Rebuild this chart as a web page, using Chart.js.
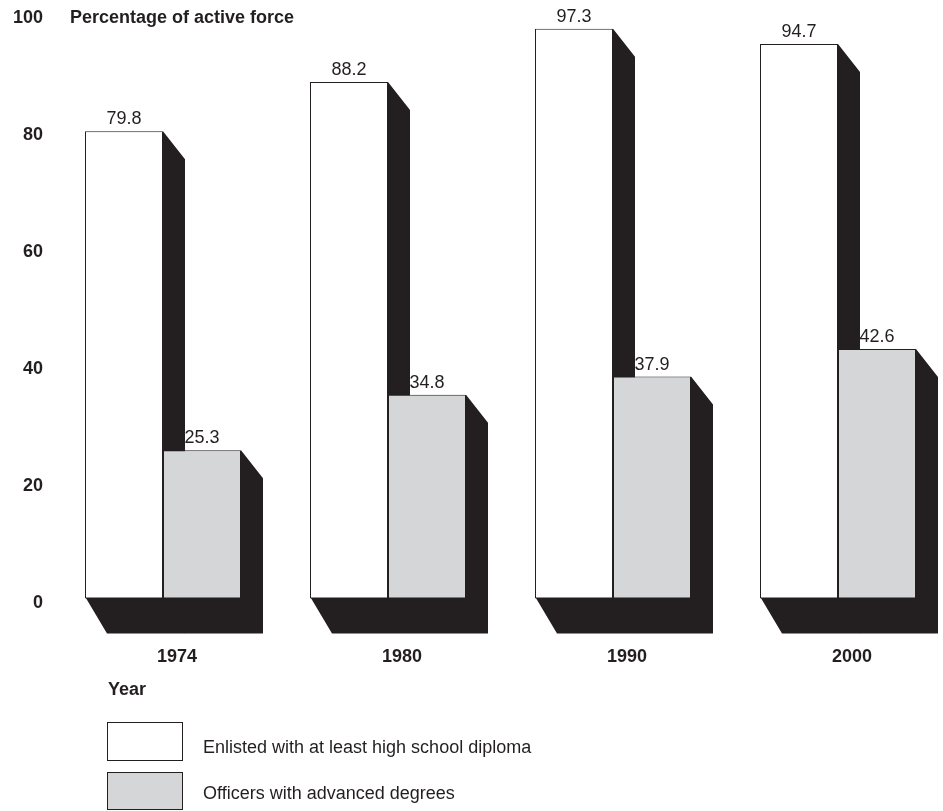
<!DOCTYPE html>
<html lang="en">

<head>
    <meta charset="UTF-8" />
    <title>Percentage of active force</title>
    <script src="https://cdn.jsdelivr.net/npm/chart.js"></script>
    <style>
        body {
            margin: 0;
            background: #fff;
            font-family: "Liberation Sans", Arial, sans-serif;
            color: #231f20;
        }

        .wrap {
            position: relative;
            width: 943px;
            height: 811px;
        }

        .txt {
            position: absolute;
            font-size: 18px;
            line-height: 18px;
            white-space: nowrap;
        }

        .bold {
            font-weight: bold;
        }

        .box {
            position: absolute;
            left: 107px;
            width: 74px;
            border: 1px solid #231f20;
        }
    </style>
</head>

<body>
    <div class="wrap">
        <canvas id="BarChart"></canvas>
        <div class="txt bold" style="left: 70px; top: 8px;">Percentage of active force</div>
        <div class="txt bold" style="left: 108px; top: 680px;">Year</div>
        <div class="box" style="top: 722px; height: 37px; background: #fff;"></div>
        <div class="txt" style="left: 203px; top: 738px;">Enlisted with at least high school diploma</div>
        <div class="box" style="top: 772px; height: 36px; background: #d5d6d8;"></div>
        <div class="txt" style="left: 203px; top: 784px;">Officers with advanced degrees</div>
    </div>

    <script>
        const years = ['1974', '1980', '1990', '2000'];
        const enlisted = [79.8, 88.2, 97.3, 94.7];
        const officers = [25.3, 34.8, 37.9, 42.6];
        const yTicks = [0, 20, 40, 60, 80, 100];

        const ink = '#231f20';
        const fontFamily = '"Liberation Sans", Arial, sans-serif';

        // black extrusion behind each bar (right side + floor)
        const shadow = {
            id: 'shadow',
            beforeDatasetsDraw(chart) {
                const ctx = chart.ctx;
                ctx.save();
                ctx.fillStyle = ink;
                chart.data.datasets.forEach((ds, i) => {
                    chart.getDatasetMeta(i).data.forEach(bar => {
                        const { x, y, base, width } = bar.getProps(['x', 'y', 'base', 'width'], true);
                        const left = x - width / 2;
                        const right = x + width / 2;
                        // start a little inside the bar so no seam shows at the base
                        ctx.beginPath();
                        ctx.moveTo(left, base - 2);
                        ctx.lineTo(left + 22, base + 35);
                        ctx.lineTo(right + 22, base + 35);
                        ctx.lineTo(right + 22, y + 28);
                        ctx.lineTo(right, y);
                        ctx.lineTo(right, base - 2);
                        ctx.closePath();
                        ctx.fill();
                    });
                });
                ctx.restore();
            }
        };

        // value above each bar
        const valueLabels = {
            id: 'valueLabels',
            afterDatasetsDraw(chart) {
                const ctx = chart.ctx;
                ctx.save();
                ctx.fillStyle = ink;
                ctx.font = '18px ' + fontFamily;
                ctx.textAlign = 'center';
                ctx.textBaseline = 'alphabetic';
                chart.data.datasets.forEach((ds, i) => {
                    chart.getDatasetMeta(i).data.forEach((bar, j) => {
                        ctx.fillText(ds.data[j].toFixed(1), bar.x, bar.y - 7);
                    });
                });
                ctx.restore();
            }
        };

        const ctx = document.getElementById('BarChart');

        const CHART1 = new Chart(ctx, {
            type: 'bar',
            data: {
                labels: years,
                datasets: [{
                    label: 'Enlisted with at least high school diploma',
                    data: enlisted,
                    backgroundColor: '#ffffff',
                    borderColor: ink,
                    borderWidth: 1,
                    borderSkipped: false,
                    categoryPercentage: 0.6933,
                    barPercentage: 1,
                    clip: false
                }, {
                    label: 'Officers with advanced degrees',
                    data: officers,
                    backgroundColor: '#d5d6d8',
                    borderColor: ink,
                    borderWidth: 1,
                    borderSkipped: false,
                    categoryPercentage: 0.6933,
                    barPercentage: 1,
                    clip: false
                }]
            },
            options: {
                responsive: true,
                maintainAspectRatio: false,
                animation: false,
                layout: {
                    padding: { top: 13, right: 105, bottom: 95, left: 0 }
                },
                scales: {
                    x: {
                        offset: false,
                        grid: { display: false, drawTicks: false },
                        border: { display: false },
                        ticks: {
                            color: ink,
                            padding: 48,
                            labelOffset: 14,
                            maxRotation: 0,
                            autoSkip: false,
                            font: { family: fontFamily, size: 18, weight: 'bold' }
                        }
                    },
                    y: {
                        min: 0,
                        max: 100,
                        grid: { display: false, drawTicks: false },
                        border: { display: false },
                        afterBuildTicks: scale => {
                            scale.ticks = yTicks.map(v => ({ value: v }));
                        },
                        afterFit: scale => {
                            // wide axis box so the labels sit far left of the first group
                            scale.width = 163;
                            scale.paddingTop = 8;
                            scale.paddingBottom = 8;
                        },
                        ticks: {
                            color: ink,
                            padding: 120,
                            labelOffset: 5,
                            font: { family: fontFamily, size: 18, weight: 'bold' }
                        }
                    }
                },
                plugins: {
                    legend: { display: false },
                    tooltip: { enabled: false }
                }
            },
            plugins: [shadow, valueLabels]
        });
    </script>
</body>

</html>
